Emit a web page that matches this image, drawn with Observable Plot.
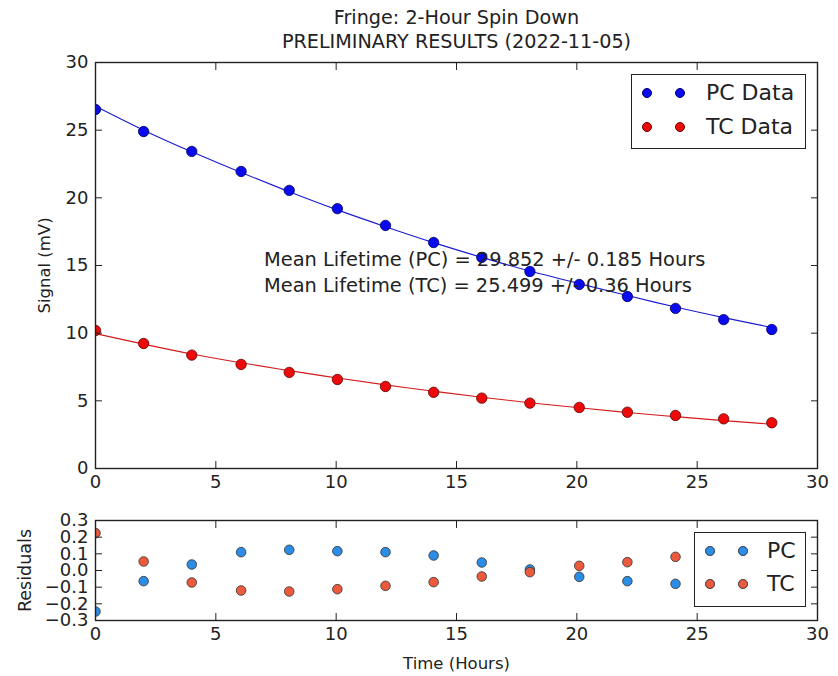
<!DOCTYPE html>
<html>
<head>
<meta charset="utf-8">
<script src="https://cdn.jsdelivr.net/npm/d3@7"></script>
<script src="https://cdn.jsdelivr.net/npm/@observablehq/plot@0.6"></script>
<style>
  html, body { margin: 0; padding: 0; background: #fff; }
  #wrap { position: relative; width: 838px; height: 676px; font-family: "DejaVu Sans", sans-serif; color: #222; }
  #topPlot { position: absolute; left: 0; top: 0; }
  #botPlot { position: absolute; left: 0; top: 500px; }
  .legend { position: absolute; background: #fff; border: 1.5px solid #222; box-sizing: border-box; }
  .legend .dot { position: absolute; border-radius: 50%; box-sizing: border-box; }
  .legend .lab { position: absolute; font-size: 22px; line-height: 22px; white-space: nowrap; color: #222; }
</style>
</head>
<body>
<div id="wrap">
  <div id="topPlot"></div>
  <div id="botPlot"></div>
</div>
<script>
// ---------- data ----------
const titleLines = ["Fringe: 2-Hour Spin Down", "PRELIMINARY RESULTS (2022-11-05)"];
const annotation = ["Mean Lifetime (PC) = 29.852 +/- 0.185 Hours", "Mean Lifetime (TC) = 25.499 +/- 0.36 Hours"];
const yLabelTop = "Signal (mV)";
const yLabelBot = "Residuals";
const xLabel = "Time (Hours)";

const times    = [0, 2.0, 4.0, 6.05, 8.05, 10.05, 12.05, 14.05, 16.05, 18.05, 20.1, 22.1, 24.1, 26.1, 28.1];
const pcSignal = [26.53, 24.9, 23.43, 21.95, 20.55, 19.2, 17.96, 16.7, 15.6, 14.56, 13.6, 12.71, 11.83, 11.0, 10.27];
const tcSignal = [10.2, 9.24, 8.38, 7.69, 7.1, 6.58, 6.06, 5.63, 5.2, 4.83, 4.51, 4.16, 3.92, 3.67, 3.38];
const pcFit    = [26.77, 25.0, 23.40, 21.87, 20.45, 19.11, 17.87, 16.69, 15.60, 14.59, 13.66, 12.78, 11.93, 11.15, 10.42];
const tcFit    = [9.97, 9.19, 8.46, 7.81, 7.23, 6.69, 6.18, 5.71, 5.27, 4.86, 4.49, 4.14, 3.83, 3.54, 3.27];
const pcResid  = [-0.246, -0.064, 0.036, 0.11, 0.124, 0.116, 0.11, 0.09, 0.048, 0.006, -0.038, -0.064, -0.08, -0.09, -0.1];
const tcResid  = [0.224, 0.054, -0.072, -0.12, -0.126, -0.112, -0.092, -0.07, -0.036, -0.01, 0.028, 0.05, 0.082, 0.1, 0.12];

const xTicks    = [0, 5, 10, 15, 20, 25, 30];
const yTicksTop = [0, 5, 10, 15, 20, 25, 30];
const yTicksBot = [-0.3, -0.2, -0.1, 0.0, 0.1, 0.2, 0.3];
const legendTop = ["PC Data", "TC Data"];
const legendBot = ["PC", "TC"];

// ---------- colours ----------
const C = {
  pc: "#0a0aee", pcEdge: "#000066", pcLine: "#1a1ad0",
  tc: "#ee0a0a", tcEdge: "#660000", tcLine: "#d41a1a",
  pcR: "#2b8de6", tcR: "#eb5a3c", rEdge: "#333",
  ink: "#222"
};

const rows = (xs, ys) => xs.map((x, i) => ({x, y: ys[i]}));
const fmt1 = d3.format(".1f");

const baseStyle = {fontFamily: "DejaVu Sans", background: "transparent", color: C.ink, overflow: "visible"};

// ---------- top panel ----------
const topPlot = Plot.plot({
  width: 838, height: 500,
  marginLeft: 95, marginRight: 21, marginTop: 62, marginBottom: 32,
  style: baseStyle,
  x: {domain: [0, 30]},
  y: {domain: [0, 30]},
  marks: [
    Plot.line(rows(times, pcFit), {x: "x", y: "y", stroke: C.pcLine, strokeWidth: 1.1, curve: "natural"}),
    Plot.line(rows(times, tcFit), {x: "x", y: "y", stroke: C.tcLine, strokeWidth: 1.1, curve: "natural"}),
    Plot.dot(rows(times, pcSignal), {x: "x", y: "y", r: 5.2, fill: C.pc, stroke: C.pcEdge, strokeWidth: 0.8, clip: true}),
    Plot.dot(rows(times, tcSignal), {x: "x", y: "y", r: 5.2, fill: C.tc, stroke: C.tcEdge, strokeWidth: 0.8, clip: true}),
    Plot.text([annotation.join("\n")], {x: 7, y: 14.6, textAnchor: "start", lineAnchor: "middle", fontSize: 19.4, lineHeight: 1.3, fill: C.ink}),
    Plot.frame({stroke: C.ink, strokeWidth: 1.4}),
    Plot.axisX({ticks: xTicks, tickSize: -7, tickPadding: 14, fontSize: 18, label: null, stroke: C.ink}),
    Plot.axisX({anchor: "top", ticks: xTicks, tickSize: -7, tickFormat: () => "", label: null, stroke: C.ink}),
    Plot.axisY({ticks: yTicksTop, tickSize: -7, tickPadding: 14, fontSize: 18, label: null, stroke: C.ink}),
    Plot.axisY({anchor: "right", ticks: yTicksTop, tickSize: -7, tickFormat: () => "", label: null, stroke: C.ink}),
    Plot.text([yLabelTop], {frameAnchor: "left", textAnchor: "middle", dx: -51, rotate: -90, fontSize: 16.5, fill: C.ink}),
    Plot.text([titleLines.join("\n")], {frameAnchor: "top", textAnchor: "middle", dy: -34, lineAnchor: "middle", fontSize: 19.2, lineHeight: 1.25, fill: C.ink})
  ]
});
document.getElementById("topPlot").appendChild(topPlot);

// ---------- residual panel ----------
const botPlot = Plot.plot({
  width: 838, height: 176,
  marginLeft: 95, marginRight: 21, marginTop: 20, marginBottom: 56,
  style: baseStyle,
  x: {domain: [0, 30]},
  y: {domain: [-0.3, 0.3]},
  marks: [
    Plot.dot(rows(times, pcResid), {x: "x", y: "y", r: 4.8, fill: C.pcR, stroke: C.rEdge, strokeWidth: 0.8, clip: true}),
    Plot.dot(rows(times, tcResid), {x: "x", y: "y", r: 4.8, fill: C.tcR, stroke: C.rEdge, strokeWidth: 0.8, clip: true}),
    Plot.frame({stroke: C.ink, strokeWidth: 1.4}),
    Plot.axisX({ticks: xTicks, tickSize: -7, tickPadding: 14, fontSize: 18, label: null, stroke: C.ink}),
    Plot.axisX({anchor: "top", ticks: xTicks, tickSize: -7, tickFormat: () => "", label: null, stroke: C.ink}),
    Plot.axisY({ticks: yTicksBot, tickSize: -7, tickPadding: 14, fontSize: 18, label: null, stroke: C.ink, tickFormat: fmt1}),
    Plot.axisY({anchor: "right", ticks: yTicksBot, tickSize: -7, tickFormat: () => "", label: null, stroke: C.ink}),
    Plot.text([yLabelBot], {frameAnchor: "left", textAnchor: "middle", dx: -70, rotate: -90, fontSize: 17.5, fill: C.ink}),
    Plot.text([xLabel], {frameAnchor: "bottom", textAnchor: "middle", dy: 43, lineAnchor: "middle", fontSize: 16.5, fill: C.ink})
  ]
});
document.getElementById("botPlot").appendChild(botPlot);

// ---------- legends ----------
function addLegend(labels, fills, edges, box) {
  const el = document.createElement("div");
  el.className = "legend";
  Object.assign(el.style, {left: box.left + "px", top: box.top + "px", width: box.w + "px", height: box.h + "px"});
  labels.forEach((lab, i) => {
    const cy = box.rowY[i];
    box.dotX.forEach(cx => {
      const d = document.createElement("div");
      d.className = "dot";
      Object.assign(d.style, {
        left: (cx - box.d / 2) + "px", top: (cy - box.d / 2) + "px",
        width: box.d + "px", height: box.d + "px",
        background: fills[i], border: "0.8px solid " + edges[i]
      });
      el.appendChild(d);
    });
    const t = document.createElement("div");
    t.className = "lab";
    t.textContent = lab;
    Object.assign(t.style, {left: box.textX + "px", top: (cy - 11) + "px"});
    el.appendChild(t);
  });
  document.getElementById("wrap").appendChild(el);
}
addLegend(legendTop, [C.pc, C.tc], [C.pcEdge, C.tcEdge],
  {left: 631, top: 74, w: 175, h: 75, rowY: [18, 52], dotX: [15, 48], d: 10.5, textX: 74});
addLegend(legendBot, [C.pcR, C.tcR], [C.rEdge, C.rEdge],
  {left: 694, top: 532, w: 112, h: 75, rowY: [18, 51], dotX: [15, 48], d: 9.6, textX: 72});
</script>
</body>
</html>
